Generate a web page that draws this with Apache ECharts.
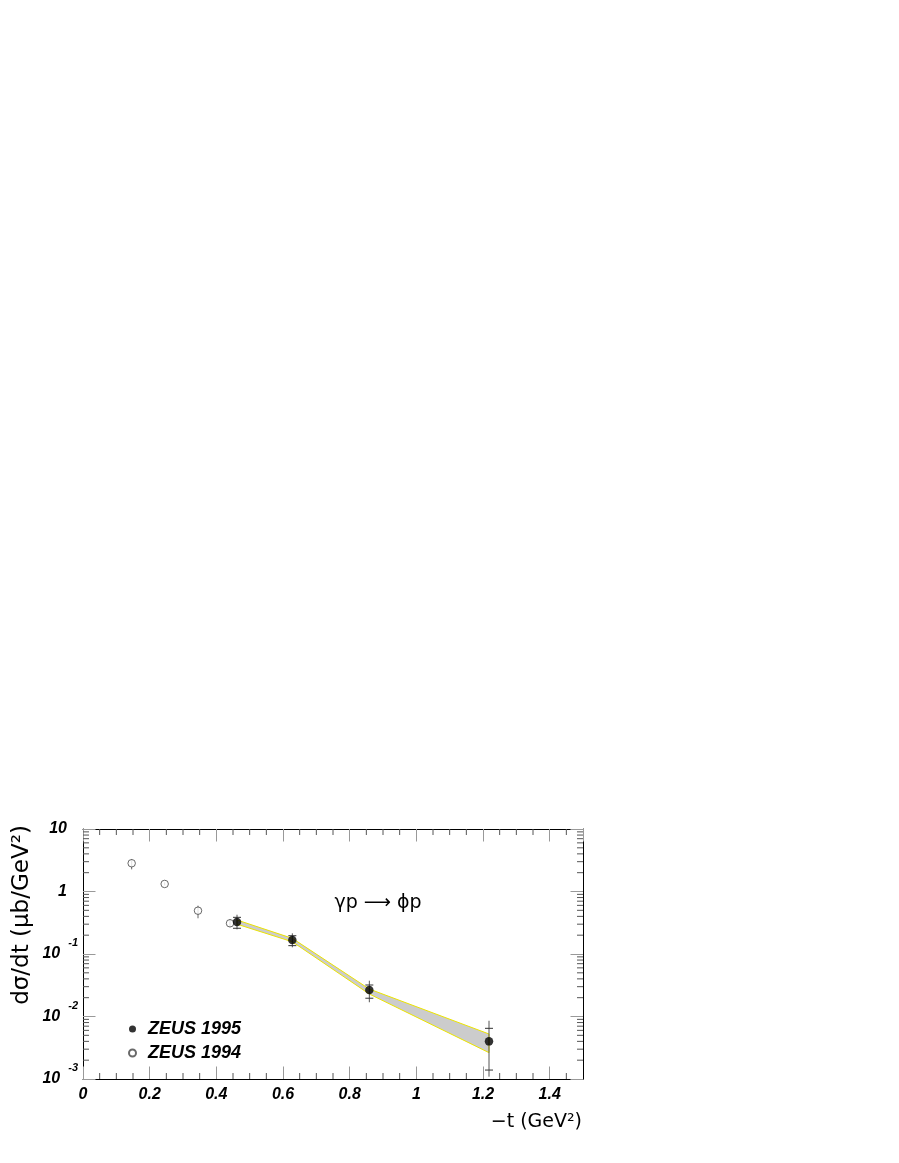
<!DOCTYPE html>
<html><head><meta charset="utf-8">
<script src="https://cdn.jsdelivr.net/npm/echarts@6/dist/echarts.min.js"></script>
<style>html,body{margin:0;padding:0;background:#fff}#c{width:899px;height:1163px}</style>
</head><body><div id="c"></div>
<script>
// ZEUS 1995 (filled points): -t, dsigma/dt, stat and total error limits
const t95 = [0.462, 0.628, 0.859, 1.218];
const y95 = [0.325, 0.168, 0.0265, 0.0040];
const stat95Lo = [0.258, 0.136, 0.0196, 0.00139];
const stat95Hi = [0.386, 0.196, 0.0319, 0.00647];
const tot95Lo = [0.248, 0.128, 0.0169, 0.00109];
const tot95Hi = [0.425, 0.214, 0.0374, 0.00855];
// ZEUS 1994 (open points)
const t94 = [0.146, 0.245, 0.345, 0.441];
const y94 = [2.83, 1.32, 0.493, 0.31];
const err94Lo = [2.26, 1.25, 0.373, 0.27];
const err94Hi = [3.31, 1.40, 0.593, 0.36];
// systematic band
const bandT = [0.462, 0.628, 0.859, 1.218];
const bandHi = [0.35, 0.178, 0.0275, 0.00525];
const bandLo = [0.30, 0.157, 0.0229, 0.00264];
// minor tick values
const xMinorTicks = [0.05,0.1,0.15,0.25,0.3,0.35,0.45,0.5,0.55,0.65,0.7,0.75,0.85,0.9,0.95,1.05,1.1,1.15,1.25,1.3,1.35,1.45];
const yMinorTicks = [];
[0.001, 0.01, 0.1, 1].forEach(d => { for (let m = 2; m <= 9; m++) yMinorTicks.push(+(m * d).toPrecision(3)); });
const xTickLabels = {0:'0',0.2:'0.2',0.4:'0.4',0.6:'0.6',0.8:'0.8',1:'1',1.2:'1.2',1.4:'1.4'};

const chart = echarts.init(document.getElementById('c'), null, {renderer: 'canvas'});
const FONT = '"Liberation Sans", Arial, Helvetica, sans-serif';
const MAJ = '#999', MIN = '#555';

function xAxisCfg(pos, labels) {
  return {
    type: 'value', position: pos, min: 0, max: 1.5, interval: 0.2,
    axisLine: {show: true, onZero: false, lineStyle: {color: '#000', width: 1}},
    axisTick: {show: true, inside: true, length: 12.5, lineStyle: {color: MAJ, width: 1}},
    splitLine: {show: false},
    axisLabel: labels ? {
      show: true, margin: 8, color: '#000', fontSize: 16, fontWeight: 'bold', fontStyle: 'italic', fontFamily: FONT,
      showMaxLabel: false,
      formatter: v => { const k = Math.round(v * 10) / 10; return xTickLabels[k] !== undefined && Math.abs(v - k) < 1e-6 ? xTickLabels[k] : ''; }
    } : {show: false}
  };
}
function yAxisCfg(pos, labels) {
  return {
    type: 'log', logBase: 10, position: pos, min: 0.001, max: 10,
    axisLine: {show: true, onZero: false, lineStyle: {color: '#000', width: 1}},
    axisTick: {show: true, inside: true, length: 12.5, lineStyle: {color: MAJ, width: 1}},
    splitLine: {show: false}, minorTick: {show: false},
    axisLabel: labels ? {
      show: true, margin: 5, color: '#000',
      formatter: v => {
        const e = Math.round(Math.log10(v));
        if (e === 0) return '{b|1}{p| }';
        if (e === 1) return '{b|10}{p| }';
        return '{b|10}{s|' + e + '}';
      },
      rich: {
        b: {fontSize: 16, fontWeight: 'bold', fontStyle: 'italic', fontFamily: FONT, color: '#000'},
        s: {fontSize: 11, fontWeight: 'bold', fontStyle: 'italic', fontFamily: FONT, color: '#000', padding: [0, 0, 22, 8]},
        p: {width: 11, fontSize: 11}
      }
    } : {show: false}
  };
}

const option = {
  animation: false,
  backgroundColor: '#fff',
  grid: {left: 83, top: 829, width: 500, height: 250, outerBoundsMode: 'none', containLabel: false},
  xAxis: [xAxisCfg('bottom', true), xAxisCfg('top', false)],
  yAxis: [yAxisCfg('left', true), yAxisCfg('right', false)],
  legend: {
    orient: 'vertical', left: 128, top: 1020, itemWidth: 7, itemHeight: 7, itemGap: 6, padding: 0,
    data: ['ZEUS 1995', 'ZEUS 1994'],
    textStyle: {fontSize: 18, fontWeight: 'bold', fontStyle: 'italic', fontFamily: FONT, color: '#000', padding: [0, 0, 0, 7]}
  },
  graphic: [
    {type: 'text', x: 22, y: 915, rotation: Math.PI / 2,
     style: {text: 'dσ/dt (μb/GeV²)', font: '23px "DejaVu Sans", sans-serif', fill: '#000', align: 'center', verticalAlign: 'middle'}},
    {type: 'text', x: 582, y: 1122,
     style: {text: '−t (GeV²)', font: '19px "DejaVu Sans", sans-serif', fill: '#000', align: 'right', verticalAlign: 'middle'}},
    {type: 'text', x: 378, y: 903,
     style: {text: 'γp ⟶ ϕp', font: '19px "DejaVu Sans", sans-serif', fill: '#000', align: 'center', verticalAlign: 'middle'}}
  ],
  series: [
    { // x minor ticks (top & bottom)
      type: 'custom', xAxisIndex: 0, yAxisIndex: 0, silent: true, z: 1,
      data: xMinorTicks.map(v => [v, 1]),
      renderItem: (params, api) => {
        const p = api.coord([api.value(0), 1]);
        const cs = params.coordSys;
        const st = {stroke: MIN, lineWidth: 1};
        return {type: 'group', children: [
          {type: 'line', shape: {x1: p[0], y1: cs.y + cs.height, x2: p[0], y2: cs.y + cs.height - 6}, style: st},
          {type: 'line', shape: {x1: p[0], y1: cs.y, x2: p[0], y2: cs.y + 6}, style: st}
        ]};
      }
    },
    { // y minor ticks (left & right)
      type: 'custom', xAxisIndex: 0, yAxisIndex: 0, silent: true, z: 1,
      data: yMinorTicks.map(v => [0.5, v]),
      renderItem: (params, api) => {
        const p = api.coord([0.5, api.value(1)]);
        const cs = params.coordSys;
        const st = {stroke: MIN, lineWidth: 1};
        return {type: 'group', children: [
          {type: 'line', shape: {x1: cs.x, y1: p[1], x2: cs.x + 6, y2: p[1]}, style: st},
          {type: 'line', shape: {x1: cs.x + cs.width, y1: p[1], x2: cs.x + cs.width - 6, y2: p[1]}, style: st}
        ]};
      }
    },
    { // systematic band
      type: 'custom', silent: true, z: 2,
      data: [[bandT[0], bandHi[0]]],
      renderItem: (params, api) => {
        const pts = [];
        for (let i = 0; i < bandT.length; i++) pts.push(api.coord([bandT[i], bandHi[i]]));
        for (let i = bandT.length - 1; i >= 0; i--) pts.push(api.coord([bandT[i], bandLo[i]]));
        return {type: 'polygon', shape: {points: pts}, style: {fill: '#cccccc', stroke: '#ece400', lineWidth: 1}};
      }
    },
    { // 1994 error bars
      type: 'custom', silent: true, z: 3,
      data: t94.map((t, i) => [t, y94[i], err94Lo[i], err94Hi[i]]),
      renderItem: (params, api) => {
        const lo = api.coord([api.value(0), api.value(2)]);
        const hi = api.coord([api.value(0), api.value(3)]);
        return {type: 'line', shape: {x1: lo[0], y1: lo[1], x2: hi[0], y2: hi[1]}, style: {stroke: '#666', lineWidth: 1}};
      }
    },
    { // 1995 error bars: total (line) and statistical (ticks)
      type: 'custom', silent: true, z: 3,
      data: t95.map((t, i) => [t, y95[i], stat95Lo[i], stat95Hi[i], tot95Lo[i], tot95Hi[i]]),
      renderItem: (params, api) => {
        const x = api.value(0);
        const sl = api.coord([x, api.value(2)]);
        const sh = api.coord([x, api.value(3)]);
        const tl = api.coord([x, api.value(4)]);
        const th = api.coord([x, api.value(5)]);
        const st = {stroke: '#333', lineWidth: 1};
        return {type: 'group', children: [
          {type: 'line', shape: {x1: tl[0], y1: tl[1], x2: th[0], y2: th[1]}, style: {stroke: '#555', lineWidth: 1}},
          {type: 'line', shape: {x1: sl[0] - 4, y1: sl[1], x2: sl[0] + 4, y2: sl[1]}, style: st},
          {type: 'line', shape: {x1: sh[0] - 4, y1: sh[1], x2: sh[0] + 4, y2: sh[1]}, style: st}
        ]};
      }
    },
    {
      name: 'ZEUS 1994', type: 'scatter', z: 4, symbol: 'circle', symbolSize: 7.5,
      itemStyle: {color: '#fff', borderColor: '#444', borderWidth: 1},
      data: t94.map((t, i) => [t, y94[i]])
    },
    {
      name: 'ZEUS 1995', type: 'scatter', z: 5, symbol: 'circle', symbolSize: 8.5,
      itemStyle: {color: '#000'},
      data: t95.map((t, i) => [t, y95[i]])
    }
  ]
};
chart.setOption(option);
</script>
</body></html>
